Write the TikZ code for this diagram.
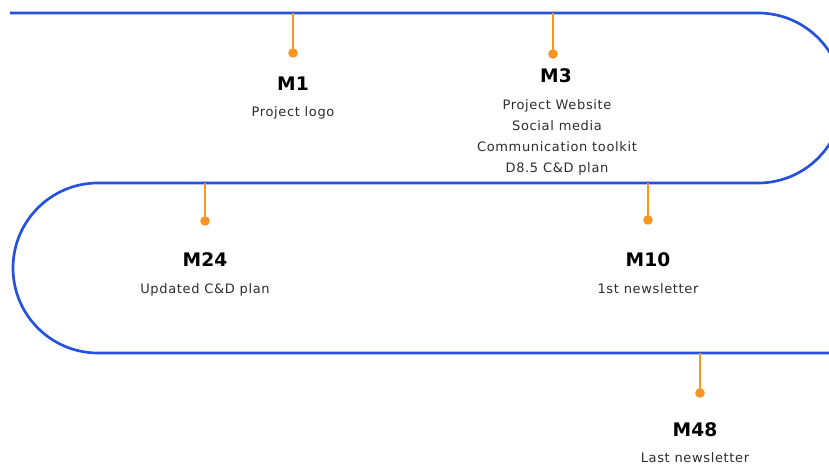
\documentclass[tikz,border=0pt]{standalone}
\usepackage{fontspec}
\setmainfont{DejaVu Sans}
\newfontfamily\bodyf[LetterSpace=5]{DejaVu Sans}
\newfontfamily\headf{DejaVu Sans}
\definecolor{lineblue}{RGB}{38,80,222}
\definecolor{stemorange}{RGB}{250,148,35}
\definecolor{txtgray}{RGB}{45,45,45}
\tikzset{
  track/.style={draw=lineblue,line width=2pt},
  stem/.style={draw=stemorange,line width=1.8pt},
  dotmark/.style={circle,fill=stemorange,inner sep=0pt,minimum size=7.2pt},
  head/.style={anchor=base,inner sep=0pt,font=\headf\bfseries\fontsize{14}{16}\selectfont,text=black},
  body/.style={anchor=base,inner sep=0pt,font=\bodyf\fontsize{9.75}{12}\selectfont,text=txtgray},
}
\begin{document}
\begin{tikzpicture}[x=0.75pt,y=-0.75pt]
\useasboundingbox (0,0) rectangle (829,466);
\fill[white] (0,0) rectangle (829,466);
\begin{scope}
\clip (0,0) rectangle (829,466);
\coordinate (t0) at (10,13);
\coordinate (t1) at (758,13);
\draw[track] (t0) -- (t1) arc[start angle=-90,end angle=90,radius=85]
  -- (98,183) arc[start angle=270,end angle=90,radius=85] -- (840,353);
\end{scope}
% M1
\coordinate (s1) at (293,13);
\node[dotmark] (d1) at (293,53) {};
\draw[stem] (s1) -- (d1.center);
\node[head] (h1) at (293,91) {M1};
\node[body] (b1) at (293,117) {Project logo};
% M3
\coordinate (s3) at (553,13);
\node[dotmark] (d3) at (553,54) {};
\draw[stem] (s3) -- (d3.center);
\node[head] (h3) at (556,83) {M3};
\node[body] (b3a) at (557,110) {Project Website};
\node[body] (b3b) at (557,131) {Social media};
\node[body] (b3c) at (557,152) {Communication toolkit};
\node[body] (b3d) at (557,173) {D8.5 C\&D plan};
% M24
\coordinate (s24) at (205,183);
\node[dotmark] (d24) at (205,221) {};
\draw[stem] (s24) -- (d24.center);
\node[head] (h24) at (205,267) {M24};
\node[body] (b24) at (205,294) {Updated C\&D plan};
% M10
\coordinate (s10) at (648,183);
\node[dotmark] (d10) at (648,220) {};
\draw[stem] (s10) -- (d10.center);
\node[head] (h10) at (648,267) {M10};
\node[body] (b10) at (648,294) {1st newsletter};
% M48
\coordinate (s48) at (700,353);
\node[dotmark] (d48) at (700,393) {};
\draw[stem] (s48) -- (d48.center);
\node[head] (h48) at (695,437) {M48};
\node[body] (b48) at (695,463) {Last newsletter};
\end{tikzpicture}
\end{document}
